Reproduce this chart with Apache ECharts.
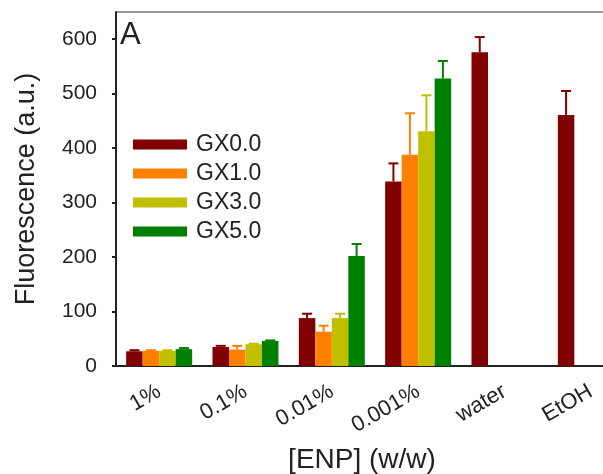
<!DOCTYPE html>
<html><head><meta charset="utf-8">
<script src="https://cdn.jsdelivr.net/npm/echarts@6/dist/echarts.min.js"></script>
<style>html,body{margin:0;padding:0;background:#fff}#c{width:603px;height:474px}</style>
</head><body><div id="c"></div>
<script>
const categories = ['1%', '0.1%', '0.01%', '0.001%', 'water', 'EtOH'];
const seriesNames = ['GX0.0', 'GX1.0', 'GX3.0', 'GX5.0'];
const gx00 = [27, 35, 88, 339, 576, 461];
const gx10 = [28, 30, 63, 388, null, null];
const gx30 = [28, 40, 88, 431, null, null];
const gx50 = [31, 46, 202, 528, null, null];
const gx00Err = [2, 2, 8, 33, 28, 44];
const gx10Err = [1, 7, 11, 76, null, null];
const gx30Err = [1, 1, 8, 66, null, null];
const gx50Err = [2, 1, 22, 32, null, null];
const yTicks = [0, 100, 200, 300, 400, 500, 600];

const colors = ['#800000', '#FF8000', '#C0C000', '#008000'];
const values = [gx00, gx10, gx30, gx50];
const errors = [gx00Err, gx10Err, gx30Err, gx50Err];
const BW = 16.5;
const FONT = "'Liberation Sans', Arial, sans-serif";
const TXT = '#222';

const series = [];
values.forEach((vals, i) => {
  series.push({
    name: seriesNames[i], type: 'bar', data: vals, barWidth: BW, barGap: '0%',
    itemStyle: { color: colors[i] }, z: 2
  });
});
values.forEach((vals, i) => {
  const data = [];
  vals.forEach((v, k) => { if (v != null && errors[i][k] != null) data.push([k, v, errors[i][k]]); });
  const off = (i - 1.5) * BW;
  series.push({
    name: 'err' + i, type: 'custom', data: data, z: 3,
    encode: { x: 0, y: 1 },
    renderItem: function (params, api) {
      const ci = api.value(0), v = api.value(1), e = api.value(2);
      const base = api.coord([ci, v]);
      const top = api.coord([ci, v + e]);
      const x = base[0] + off;
      return { type: 'group', children: [
        { type: 'line', shape: { x1: x, y1: base[1], x2: x, y2: top[1] }, style: { stroke: colors[i], lineWidth: 2 } },
        { type: 'line', shape: { x1: x - 5, y1: top[1], x2: x + 5, y2: top[1] }, style: { stroke: colors[i], lineWidth: 2 } }
      ] };
    }
  });
});

const chart = echarts.init(document.getElementById('c'));
chart.setOption({
  animation: false,
  backgroundColor: '#fff',
  grid: { left: 116, top: 12, bottom: 108, width: 518, outerBoundsMode: 'none', containLabel: false,
    show: true, borderColor: '#333', borderWidth: 1, backgroundColor: 'transparent' },
  legend: {
    data: seriesNames, orient: 'vertical', left: 128, top: 128, itemWidth: 54, itemHeight: 10, itemGap: 6,
    icon: 'rect',
    textStyle: { fontFamily: FONT, fontSize: 23, color: TXT, lineHeight: 23, padding: [0, 0, 0, 4] }
  },
  graphic: [{ type: 'text', left: 120, top: 20, style: { text: 'A', font: '31px ' + FONT, fill: TXT } }],
  xAxis: {
    type: 'category', data: categories,
    axisLine: { lineStyle: { color: '#222', width: 2 } },
    axisTick: { alignWithLabel: true, length: 4, lineStyle: { color: '#222', width: 2 } },
    axisLabel: { rotate: 30, fontFamily: FONT, fontSize: 22, color: TXT, margin: 24, interval: 0 },
    name: '[ENP] (w/w)', nameLocation: 'middle', nameGap: 80,
    nameTextStyle: { fontFamily: FONT, fontSize: 28, color: TXT, padding: [0, 26, 0, 0] }
  },
  yAxis: {
    type: 'value', min: 0, max: 650, interval: 100,
    axisLine: { show: true, lineStyle: { color: '#222', width: 2 } },
    axisTick: { show: true, length: 4, customValues: yTicks, lineStyle: { color: '#222', width: 2 } },
    axisLabel: { customValues: yTicks, fontFamily: FONT, fontSize: 21, color: TXT, margin: 19 },
    splitLine: { show: false },
    name: 'Fluorescence (a.u.)', nameLocation: 'middle', nameGap: 76,
    nameTextStyle: { fontFamily: FONT, fontSize: 27, color: TXT }
  },
  series: series
});
</script></body></html>
